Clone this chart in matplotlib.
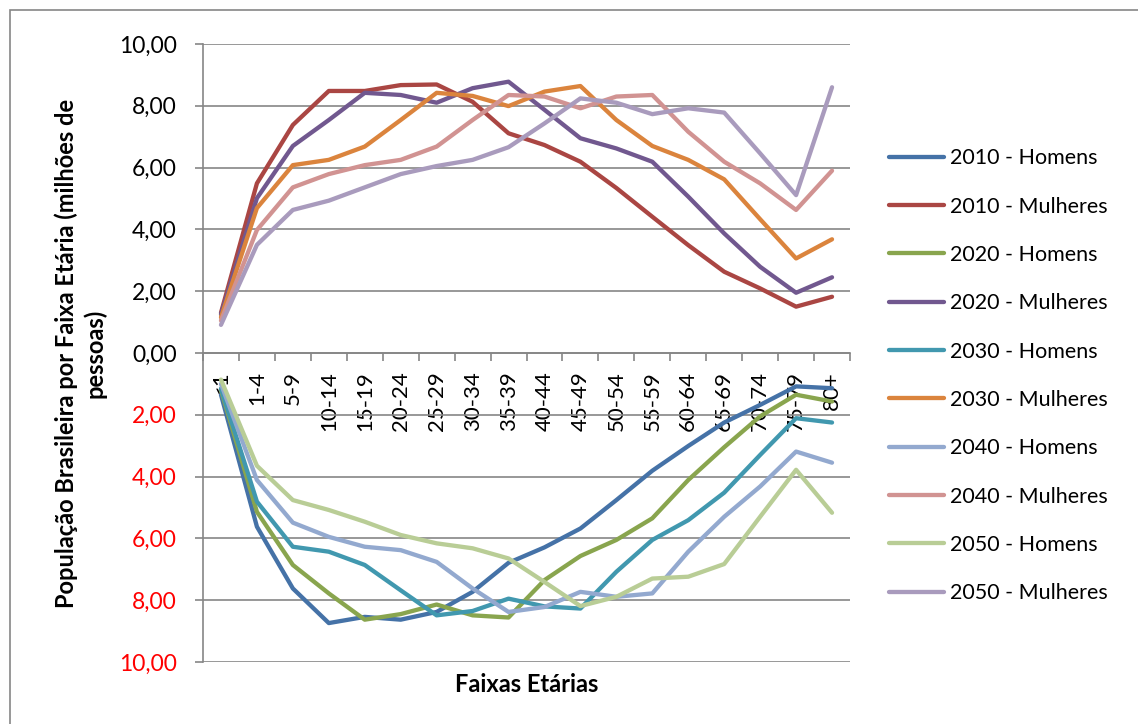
import numpy as np
import matplotlib
matplotlib.use("Agg")
import matplotlib.pyplot as plt
from matplotlib.patches import Rectangle
from matplotlib.ticker import FixedLocator, FuncFormatter

plt.rcParams["font.family"] = ["Lato", "DejaVu Sans"]

faixas = ["<1", "1-4", "5-9", "10-14", "15-19", "20-24", "25-29", "30-34",
          "35-39", "40-44", "45-49", "50-54", "55-59", "60-64", "65-69",
          "70-74", "75-79", "80+"]

# milhões de pessoas; homens em negativo
h2010 = [-1.35, -5.62, -7.62, -8.74, -8.54, -8.63, -8.38, -7.73, -6.79,
         -6.29, -5.68, -4.76, -3.81, -3.01, -2.25, -1.68, -1.08, -1.14]
m2010 = [1.30, 5.49, 7.38, 8.48, 8.48, 8.67, 8.69, 8.13, 7.11,
         6.73, 6.19, 5.34, 4.41, 3.49, 2.63, 2.09, 1.50, 1.82]
h2020 = [-1.20, -5.14, -6.86, -7.78, -8.63, -8.45, -8.14, -8.49, -8.56,
         -7.35, -6.57, -6.05, -5.35, -4.11, -3.05, -2.05, -1.35, -1.57]
m2020 = [1.25, 5.01, 6.70, 7.54, 8.42, 8.35, 8.10, 8.57, 8.78,
         7.87, 6.95, 6.62, 6.19, 5.06, 3.87, 2.79, 1.95, 2.45]
h2030 = [-1.15, -4.81, -6.27, -6.43, -6.86, -7.68, -8.49, -8.35, -7.95,
         -8.20, -8.27, -7.08, -6.05, -5.41, -4.52, -3.30, -2.11, -2.25]
m2030 = [1.15, 4.69, 6.08, 6.25, 6.68, 7.54, 8.42, 8.32, 7.99,
         8.46, 8.64, 7.54, 6.70, 6.25, 5.62, 4.33, 3.06, 3.68]
h2040 = [-1.00, -4.11, -5.49, -5.95, -6.27, -6.38, -6.76, -7.62, -8.38,
         -8.22, -7.73, -7.89, -7.78, -6.43, -5.30, -4.32, -3.19, -3.55]
m2040 = [1.05, 3.98, 5.36, 5.79, 6.08, 6.25, 6.68, 7.54, 8.35,
         8.30, 7.92, 8.30, 8.35, 7.16, 6.19, 5.49, 4.63, 5.90]
h2050 = [-0.86, -3.65, -4.76, -5.08, -5.46, -5.89, -6.16, -6.32, -6.65,
         -7.41, -8.19, -7.89, -7.30, -7.24, -6.83, -5.30, -3.78, -5.17]
m2050 = [0.91, 3.50, 4.63, 4.93, 5.36, 5.79, 6.05, 6.25, 6.66,
         7.43, 8.24, 8.10, 7.73, 7.92, 7.78, 6.46, 5.11, 8.60]

series = [
    ("2010 - Homens", h2010, "#4572A7"),
    ("2010 - Mulheres", m2010, "#AA4643"),
    ("2020 - Homens", h2020, "#89A54E"),
    ("2020 - Mulheres", m2020, "#71588F"),
    ("2030 - Homens", h2030, "#4198AF"),
    ("2030 - Mulheres", m2030, "#DB843D"),
    ("2040 - Homens", h2040, "#93A9CF"),
    ("2040 - Mulheres", m2040, "#D19392"),
    ("2050 - Homens", h2050, "#B9CD96"),
    ("2050 - Mulheres", m2050, "#A99BBD"),
]

GRID = "#868686"

fig = plt.figure(figsize=(11.38, 7.24), dpi=100)
ax = fig.add_axes([203 / 1138, 1 - 662 / 724, (850 - 203) / 1138, (662 - 44) / 724])

# moldura do gráfico
fig.patches.append(Rectangle((10 / 1138, -0.05), 1.2, 1.05 - 10 / 724,
                             transform=fig.transFigure, fill=False,
                             edgecolor=GRID, linewidth=1.2))

x = np.arange(len(faixas))
for label, vals, col in series:
    ax.plot(x, vals, color=col, linewidth=3.1, label=label,
            solid_capstyle="round", solid_joinstyle="round", zorder=3)

ax.set_xlim(-0.5, len(faixas) - 0.5)
ax.set_ylim(-10, 10)

yt = np.arange(-10, 11, 2)
ax.set_yticks(yt)
ax.yaxis.set_major_formatter(FuncFormatter(lambda v, p: f"{abs(v):.2f}".replace(".", ",")))
for t, v in zip(ax.get_yticklabels(), yt):
    t.set_color("red" if v < 0 else "black")
ax.tick_params(axis="y", direction="out", length=6, color=GRID, width=1.2,
               labelsize=16.5, pad=13)
ax.grid(axis="y", color=GRID, linewidth=1.2, zorder=1)
ax.set_axisbelow(True)

ax.spines["top"].set_visible(False)
ax.spines["right"].set_visible(False)
ax.spines["left"].set_color(GRID)
ax.spines["left"].set_linewidth(1.2)
ax.spines["bottom"].set_position(("data", 0))
ax.spines["bottom"].set_color(GRID)
ax.spines["bottom"].set_linewidth(1.2)

ax.set_xticks(x)
ax.set_xticklabels(faixas, rotation=90, va="top", ha="center")
ax.xaxis.set_minor_locator(FixedLocator(np.arange(-0.5, len(faixas), 1.0)))
ax.tick_params(axis="x", which="major", length=0, labelsize=16, pad=13)
ax.tick_params(axis="x", which="minor", direction="out", length=6,
               color=GRID, width=1.2)

ax.set_ylabel("População Brasileira por Faixa Etária (milhões de\npessoas)",
              fontsize=17, fontweight="bold", labelpad=9, linespacing=1.25)
fig.text((203 + 850) / 2 / 1138, 1 - 685 / 724, "Faixas Etárias",
         fontsize=17, fontweight="bold", ha="center", va="center")

leg = ax.legend(loc="upper left", bbox_to_anchor=(1.047, 0.845), frameon=False,
                fontsize=15.5, handlelength=2.55, handletextpad=0.3,
                labelspacing=1.315, borderaxespad=0)

fig.savefig("out.png", dpi=100)
